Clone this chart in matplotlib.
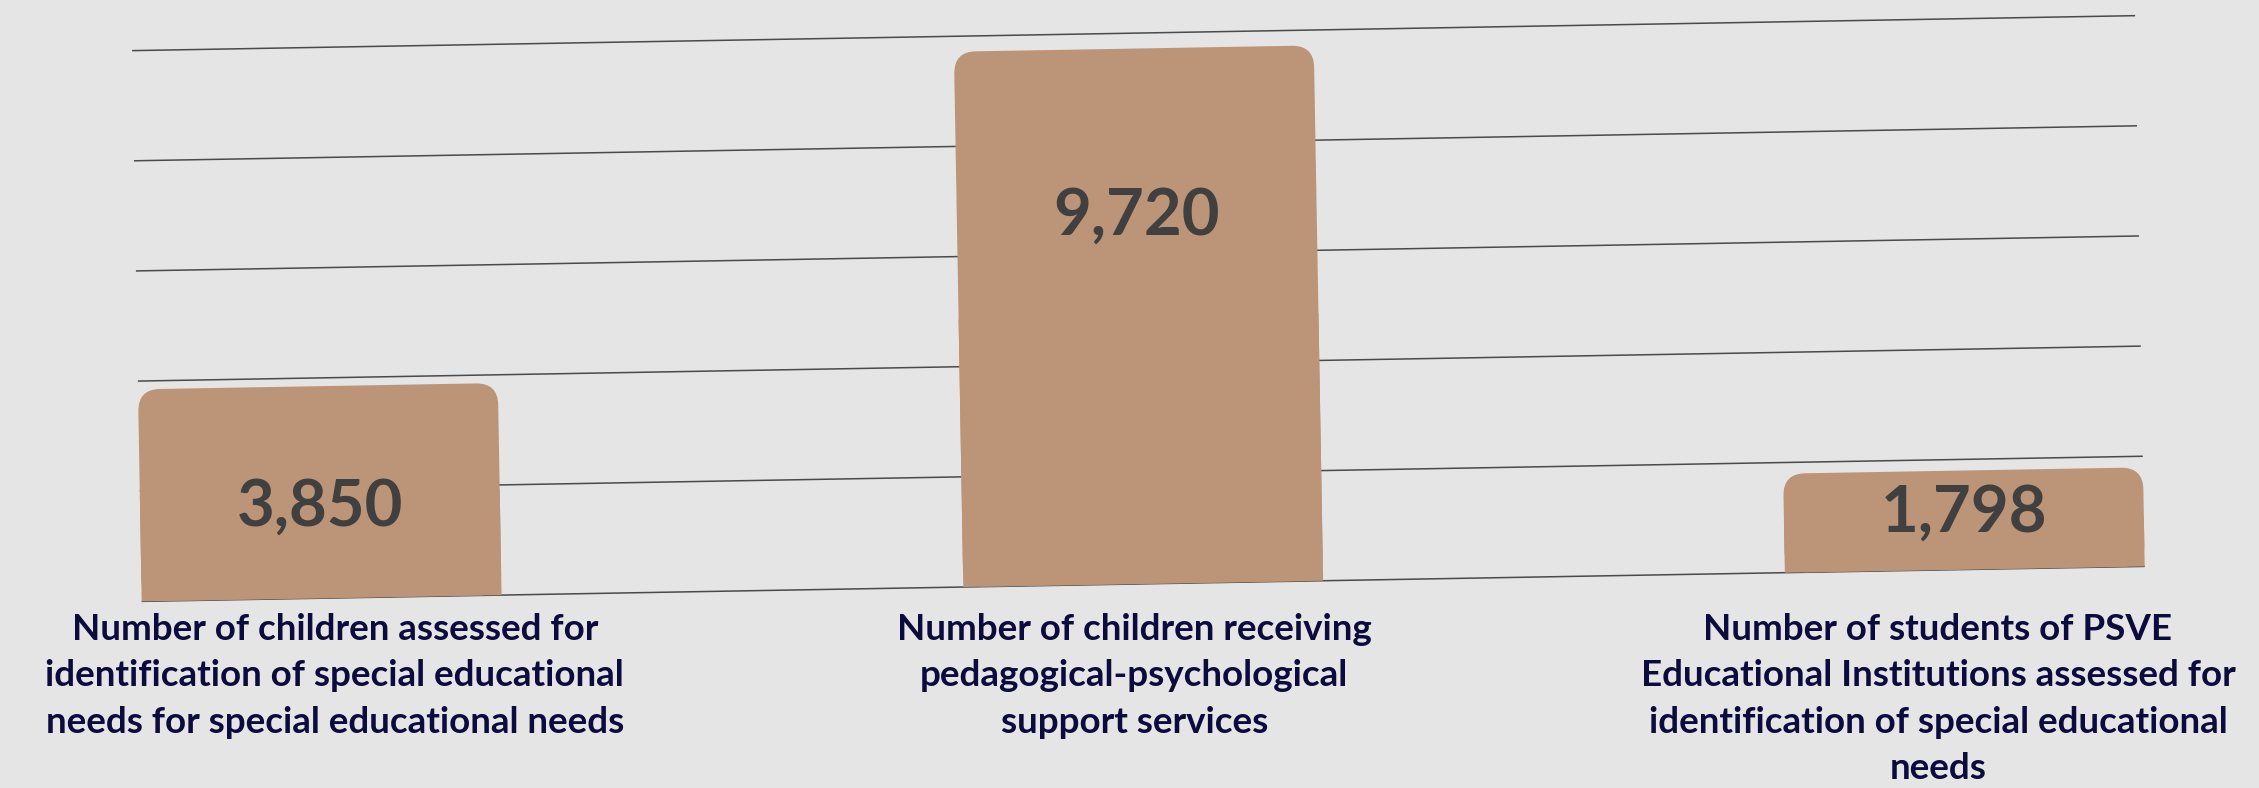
import matplotlib.pyplot as plt
from matplotlib.patches import FancyBboxPatch, Rectangle
from matplotlib.transforms import Affine2D, IdentityTransform

# data
categories = [
    "Number of children assessed for\nidentification of special educational\nneeds for special educational needs",
    "Number of children receiving\npedagogical-psychological\nsupport services",
    "Number of students of PSVE\nEducational Institutions assessed for\nidentification of special educational\nneeds",
]
values = [3850, 9720, 1798]
value_labels = ["3,850", "9,720", "1,798"]
grid_ticks = [0, 2000, 4000, 6000, 8000, 10000]

# where the number sits inside each bar (data units)
label_y = [1650, 6670, 1030]
# small horizontal shift of the category labels (data units)
cat_shift = [0.022, -0.005, -0.027]

bg = "#e5e5e5"
bar_color = "#bc9477"
num_color = "#404040"
cat_color = "#0b0b3d"
font = ["Lato", "DejaVu Sans"]

fig = plt.figure(figsize=(22.59, 7.88), dpi=100, facecolor=bg)
ax = fig.add_axes([0.0598, 0.259, 0.889, 0.699])
ax.set_facecolor(bg)
ax.set_xlim(-0.221, 2.223)
ax.set_ylim(0, 10000)
ax.axis("off")

# the whole plot is tilted by about one degree
bb = ax.get_window_extent()
cx, cy = (bb.x0 + bb.x1) / 2, (bb.y0 + bb.y1) / 2
rot = Affine2D().rotate_deg_around(cx, cy, 1.0)
tilted = ax.transData + rot

bars = ax.bar(range(len(values)), values, width=0.438, alpha=0)

# gridlines run from the left edge of the first bar to the right edge of the last
gx0 = bars[0].get_x()
gx1 = bars[-1].get_x() + bars[-1].get_width()
for t in grid_ticks:
    ax.plot([gx0, gx1], [t, t], color="#4a4a4a", lw=1.1,
            solid_capstyle="butt", transform=tilted, zorder=1, clip_on=False)

radius = 22
for b in bars:
    (px0, py0), (px1, py1) = ax.transData.transform(
        [(b.get_x(), 0), (b.get_x() + b.get_width(), b.get_height())])
    w, h = px1 - px0, py1 - py0
    tr = IdentityTransform() + rot
    ax.add_patch(FancyBboxPatch((px0, py0), w, h,
                                boxstyle=f"round,pad=0,rounding_size={radius}",
                                fc=bar_color, ec="none", transform=tr,
                                zorder=2, clip_on=False))
    ax.add_patch(Rectangle((px0, py0), w, h / 2, fc=bar_color, ec="none",
                           transform=tr, zorder=2, clip_on=False))

for i, (lab, ly) in enumerate(zip(value_labels, label_y)):
    ax.text(i, ly, lab, transform=tilted, ha="center", va="center",
            fontsize=47, fontweight="bold", color=num_color, family=font,
            zorder=3)

for i, cat in enumerate(categories):
    ax.text(i + cat_shift[i], -0.052, cat,
            transform=ax.get_xaxis_transform(), ha="center", va="top",
            fontsize=26.5, fontweight="bold", color=cat_color, family=font,
            linespacing=1.5, clip_on=False)

fig.savefig("out.png", dpi=100, facecolor=bg)
